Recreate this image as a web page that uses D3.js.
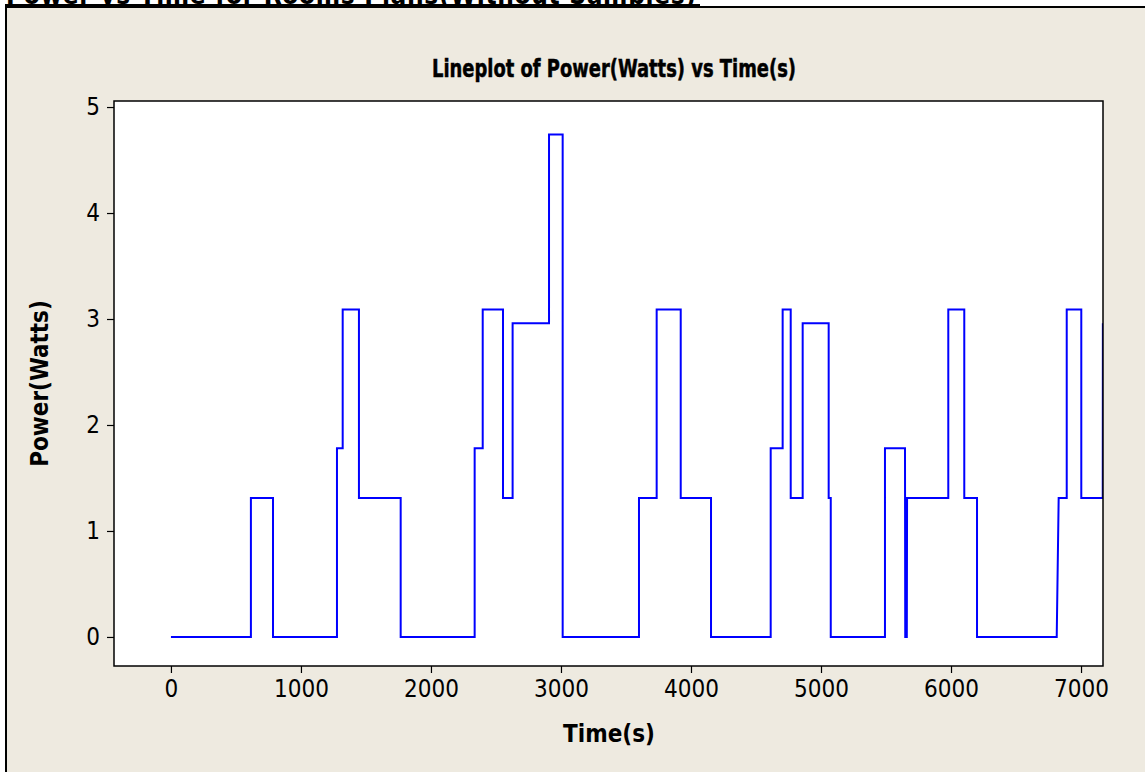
<!DOCTYPE html>
<html>
<head>
<meta charset="utf-8">
<script src="https://cdn.jsdelivr.net/npm/d3@7"></script>
<style>
  body { margin: 0; background: #ffffff; }
  svg { display: block; }
  text { font-family: "DejaVu Sans Condensed", "DejaVu Sans", sans-serif; fill: #000; }
</style>
</head>
<body>
<div id="chart"></div>
<script>
// Power readings (Watts) over time (s)
const timeS = [
    0, 615, 615, 785, 785,
    1277, 1277, 1321, 1321, 1446, 1446, 1767, 1767,
    2336, 2336, 2398, 2398, 2554, 2554, 2628, 2628, 2908, 2908, 3013, 3013,
    3600, 3600, 3736, 3736, 3921, 3921, 4154, 4154,
    4613, 4613, 4705, 4705, 4767, 4767, 4859, 4859, 5059, 5059, 5075, 5075,
    5492, 5492, 5646, 5648, 5660, 5662, 5979, 5979, 6102, 6102, 6200, 6200,
    6813, 6828, 6890, 6890, 7002, 7002, 7167, 7168
];
const powerW = [
    0, 0, 1.31, 1.31, 0,
    0, 1.78, 1.78, 3.09, 3.09, 1.31, 1.31, 0,
    0, 1.78, 1.78, 3.09, 3.09, 1.31, 1.31, 2.96, 2.96, 4.74, 4.74, 0,
    0, 1.31, 1.31, 3.09, 3.09, 1.31, 1.31, 0,
    0, 1.78, 1.78, 3.09, 3.09, 1.31, 1.31, 2.96, 2.96, 1.31, 1.31, 0,
    0, 1.78, 1.78, 0, 0, 1.31, 1.31, 3.09, 3.09, 1.31, 1.31, 0,
    0, 1.31, 1.31, 3.09, 3.09, 1.31, 1.31, 2.96
];
const xTicks = [0, 1000, 2000, 3000, 4000, 5000, 6000, 7000];
const yTicks = [0, 1, 2, 3, 4, 5];

const pageTitle = "Power vs Time for Rooms Plans(Without Samples)";
const chartTitle = "Lineplot of Power(Watts) vs Time(s)";
const xLabel = "Time(s)";
const yLabel = "Power(Watts)";

const W = 1145, H = 772;
const plot = { left: 114, right: 1103, top: 101, bottom: 666 };

const svg = d3.select("#chart").append("svg")
    .attr("width", W)
    .attr("height", H);

// document strip at the top (text cut off by the screenshot)
svg.append("rect").attr("x", 0).attr("y", 0).attr("width", W).attr("height", 8).attr("fill", "#fff");
svg.append("text")
    .attr("x", 6).attr("y", 4)
    .attr("font-size", 26).attr("font-weight", "bold")
    .attr("textLength", 690)
    .text(pageTitle);

// beige graph window
svg.append("rect")
    .attr("x", 6).attr("y", 7)
    .attr("width", W - 6).attr("height", H - 7)
    .attr("fill", "#eeeae0");
svg.append("rect").attr("x", 6).attr("y", 4).attr("width", 694).attr("height", 4).attr("fill", "#000");
svg.append("rect").attr("x", 700).attr("y", 6).attr("width", W - 700).attr("height", 2).attr("fill", "#000");
svg.append("rect").attr("x", 5).attr("y", 4).attr("width", 2).attr("height", H - 4).attr("fill", "#000");

const x = d3.scaleLinear().domain([-438, 7169]).range([plot.left, plot.right]);
const y = d3.scaleLinear().domain([-0.274, 5.057]).range([plot.bottom, plot.top]);

// white data region
svg.append("rect")
    .attr("x", plot.left).attr("y", plot.top)
    .attr("width", plot.right - plot.left).attr("height", plot.bottom - plot.top)
    .attr("fill", "#fff");

svg.append("clipPath").attr("id", "clip")
    .append("rect")
    .attr("x", plot.left).attr("y", plot.top)
    .attr("width", plot.right - plot.left).attr("height", plot.bottom - plot.top);

const points = timeS.map((t, i) => ({ t: t, p: powerW[i] }));
const line = d3.line().x(d => x(d.t)).y(d => y(d.p));

svg.append("path")
    .datum(points)
    .attr("clip-path", "url(#clip)")
    .attr("fill", "none")
    .attr("stroke", "#0000ff")
    .attr("stroke-width", 2)
    .attr("d", line);

// frame
svg.append("rect")
    .attr("x", plot.left).attr("y", plot.top)
    .attr("width", plot.right - plot.left).attr("height", plot.bottom - plot.top)
    .attr("fill", "none")
    .attr("stroke", "#000")
    .attr("stroke-width", 1.5);

// axes
const xAxis = svg.append("g")
    .attr("transform", `translate(0,${plot.bottom})`)
    .call(d3.axisBottom(x).tickValues(xTicks).tickSize(7).tickPadding(7).tickFormat(d3.format("d")));
const yAxis = svg.append("g")
    .attr("transform", `translate(${plot.left},0)`)
    .call(d3.axisLeft(y).tickValues(yTicks).tickSize(7).tickPadding(7).tickFormat(d3.format("d")));

[xAxis, yAxis].forEach(g => {
    g.select(".domain").remove();
    g.selectAll(".tick line").attr("stroke", "#000").attr("stroke-width", 1.2);
    g.selectAll(".tick text")
        .attr("font-size", 24)
        .attr("font-family", "'DejaVu Sans Condensed', 'DejaVu Sans', sans-serif")
        .attr("fill", "#000");
});

// titles
svg.append("text")
    .attr("x", 432).attr("y", 77)
    .attr("font-size", 25).attr("font-weight", "bold")
    .attr("stroke", "#000").attr("stroke-width", 0.5)
    .attr("textLength", 364)
    .attr("lengthAdjust", "spacingAndGlyphs")
    .text(chartTitle);

svg.append("text")
    .attr("x", 609).attr("y", 742)
    .attr("text-anchor", "middle")
    .attr("font-size", 24).attr("font-weight", "bold")
    .text(xLabel);

svg.append("text")
    .attr("transform", `translate(48,${(plot.top + plot.bottom) / 2}) rotate(-90)`)
    .attr("text-anchor", "middle")
    .attr("font-size", 24).attr("font-weight", "bold")
    .text(yLabel);
</script>
</body>
</html>
